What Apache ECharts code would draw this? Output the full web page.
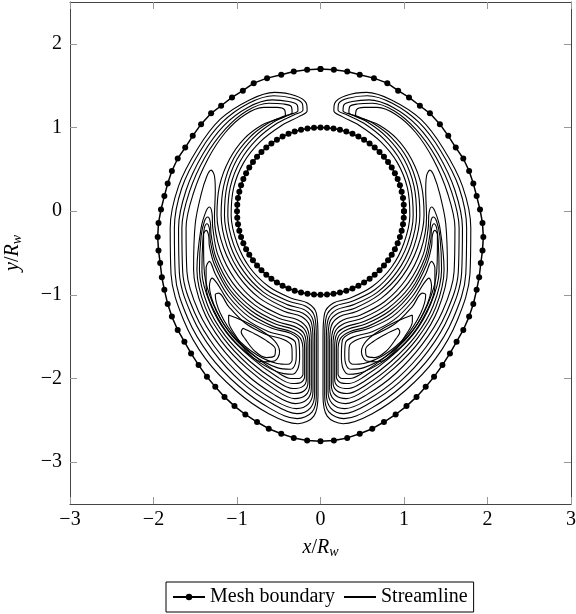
<!DOCTYPE html>
<html>
<head>
<meta charset="utf-8">
<script src="https://cdn.jsdelivr.net/npm/echarts@6/dist/echarts.min.js"></script>
<style>
  html, body { margin: 0; padding: 0; background: #fff; }
  #chart { width: 576px; height: 614px; }
</style>
</head>
<body>
<div id="chart"></div>
<script>
// tick labels
const xTicks = [-3, -2, -1, 0, 1, 2, 3]
const yTicks = [-3, -2, -1, 0, 1, 2]

// outer mesh boundary, left half, top -> bottom (right half is its mirror)
const outerLeft = [
  [0, 1.70], [-0.16, 1.69], [-0.32, 1.67], [-0.47, 1.63], [-0.64, 1.59], [-0.80, 1.53],
  [-0.93, 1.44], [-1.06, 1.36], [-1.19, 1.26], [-1.31, 1.17], [-1.43, 1.04], [-1.53, 0.90],
  [-1.62, 0.76], [-1.71, 0.63], [-1.78, 0.48], [-1.83, 0.33], [-1.87, 0.18], [-1.91, 0.02],
  [-1.94, -0.14], [-1.95, -0.31], [-1.94, -0.47], [-1.92, -0.62], [-1.90, -0.79], [-1.87, -0.94],
  [-1.83, -1.11], [-1.78, -1.26], [-1.71, -1.42], [-1.63, -1.56], [-1.55, -1.70], [-1.46, -1.84],
  [-1.36, -1.98], [-1.26, -2.10], [-1.15, -2.22], [-1.03, -2.33], [-0.90, -2.43], [-0.76, -2.52],
  [-0.62, -2.60], [-0.47, -2.66], [-0.32, -2.71], [-0.16, -2.74], [0, -2.75]
]

// inner mesh boundary (cylinder r = 1), first quadrant
const innerQuarter = [
  [1.000, 0.000], [0.997, 0.078], [0.988, 0.156], [0.972, 0.233], [0.951, 0.309], [0.924, 0.383],
  [0.891, 0.454], [0.853, 0.522], [0.809, 0.588], [0.760, 0.649], [0.707, 0.707], [0.649, 0.760],
  [0.588, 0.809], [0.522, 0.853], [0.454, 0.891], [0.383, 0.924], [0.309, 0.951], [0.233, 0.972],
  [0.156, 0.988], [0.078, 0.997], [0.000, 1.000]
]

// streamlines of the left cell (right cell is the mirror image)
const o1 = [[-0.03,-1.9],[-0.03,-1.5],[-0.05,-1.22],[-0.15,-1.1],[-0.35,-1.04],[-0.62,-0.9],[-0.85,-0.67],[-1.0,-0.38],[-1.07,-0.05],[-1.04,0.28],[-0.92,0.58],[-0.72,0.83],[-0.47,1.02],[-0.26,1.13],[-0.16,1.2],[-0.17,1.29],[-0.3,1.38],[-0.55,1.42],[-0.85,1.33],[-1.2,1.1],[-1.47,0.75],[-1.70,0.3],[-1.80,-0.2],[-1.79,-0.75],[-1.64,-1.3],[-1.38,-1.76],[-1.02,-2.14],[-0.62,-2.42],[-0.27,-2.54],[-0.08,-2.45],[-0.03,-2.2],[-0.03,-1.9]]
const o2 = [[-0.05,-1.9],[-0.05,-1.5],[-0.07,-1.26],[-0.17,-1.14],[-0.37,-1.08],[-0.65,-0.94],[-0.88,-0.7],[-1.04,-0.4],[-1.11,-0.05],[-1.08,0.29],[-0.96,0.6],[-0.76,0.86],[-0.52,1.05],[-0.32,1.15],[-0.21,1.21],[-0.22,1.29],[-0.33,1.35],[-0.56,1.38],[-0.86,1.29],[-1.18,1.06],[-1.44,0.72],[-1.66,0.28],[-1.75,-0.2],[-1.74,-0.75],[-1.59,-1.28],[-1.33,-1.72],[-0.98,-2.09],[-0.6,-2.36],[-0.28,-2.48],[-0.1,-2.4],[-0.05,-2.2],[-0.05,-1.9]]
const o3 = [[-0.07,-1.9],[-0.07,-1.52],[-0.09,-1.3],[-0.19,-1.18],[-0.39,-1.12],[-0.68,-0.97],[-0.92,-0.72],[-1.08,-0.41],[-1.15,-0.05],[-1.12,0.3],[-1.0,0.62],[-0.8,0.88],[-0.57,1.06],[-0.38,1.15],[-0.27,1.2],[-0.28,1.27],[-0.38,1.31],[-0.58,1.33],[-0.87,1.24],[-1.16,1.02],[-1.41,0.68],[-1.61,0.25],[-1.70,-0.2],[-1.69,-0.74],[-1.54,-1.25],[-1.29,-1.67],[-0.95,-2.04],[-0.58,-2.3],[-0.28,-2.42],[-0.12,-2.35],[-0.07,-2.18],[-0.07,-1.9]]
const o4 = [[-0.09,-1.9],[-0.09,-1.54],[-0.11,-1.33],[-0.21,-1.22],[-0.41,-1.16],[-0.7,-1.0],[-0.95,-0.75],[-1.12,-0.42],[-1.19,-0.05],[-1.16,0.3],[-1.04,0.63],[-0.85,0.88],[-0.63,1.05],[-0.45,1.13],[-0.34,1.18],[-0.35,1.25],[-0.44,1.28],[-0.62,1.29],[-0.88,1.2],[-1.14,0.98],[-1.38,0.65],[-1.57,0.23],[-1.66,-0.2],[-1.65,-0.73],[-1.5,-1.23],[-1.26,-1.63],[-0.93,-1.99],[-0.57,-2.25],[-0.29,-2.36],[-0.14,-2.3],[-0.09,-2.15],[-0.09,-1.9]]
const o5 = [[-0.11,-1.9],[-0.11,-1.56],[-0.13,-1.37],[-0.23,-1.26],[-0.43,-1.2],[-0.73,-1.04],[-0.98,-0.78],[-1.16,-0.44],[-1.24,-0.05],[-1.21,0.3],[-1.09,0.62],[-0.91,0.87],[-0.7,1.03],[-0.52,1.1],[-0.42,1.14],[-0.43,1.21],[-0.52,1.24],[-0.68,1.24],[-0.91,1.15],[-1.14,0.94],[-1.35,0.62],[-1.52,0.22],[-1.61,-0.2],[-1.6,-0.72],[-1.46,-1.2],[-1.22,-1.59],[-0.9,-1.94],[-0.56,-2.19],[-0.3,-2.3],[-0.16,-2.25],[-0.11,-2.12],[-0.11,-1.9]]
const t1 = [[-0.13,-1.9],[-0.13,-1.58],[-0.16,-1.4],[-0.27,-1.3],[-0.48,-1.24],[-0.77,-1.08],[-1.02,-0.82],[-1.2,-0.47],[-1.27,-0.08],[-1.26,0.25],[-1.27,0.42],[-1.31,0.49],[-1.36,0.42],[-1.43,0.2],[-1.5,-0.15],[-1.52,-0.7],[-1.41,-1.17],[-1.19,-1.55],[-0.88,-1.88],[-0.55,-2.13],[-0.31,-2.24],[-0.18,-2.2],[-0.13,-2.08],[-0.13,-1.9]]
const t2 = [[-0.15,-1.9],[-0.15,-1.6],[-0.18,-1.43],[-0.29,-1.34],[-0.5,-1.28],[-0.79,-1.12],[-1.05,-0.86],[-1.23,-0.52],[-1.29,-0.2],[-1.3,-0.02],[-1.33,0.05],[-1.37,0.0],[-1.43,-0.2],[-1.48,-0.7],[-1.38,-1.15],[-1.16,-1.52],[-0.86,-1.84],[-0.54,-2.08],[-0.32,-2.18],[-0.2,-2.15],[-0.15,-2.05],[-0.15,-1.9]]
const t3 = [[-0.17,-1.9],[-0.17,-1.62],[-0.2,-1.46],[-0.31,-1.38],[-0.52,-1.32],[-0.81,-1.16],[-1.07,-0.9],[-1.25,-0.56],[-1.31,-0.28],[-1.32,-0.13],[-1.35,-0.07],[-1.39,-0.12],[-1.43,-0.3],[-1.45,-0.7],[-1.35,-1.13],[-1.14,-1.49],[-0.84,-1.8],[-0.53,-2.03],[-0.33,-2.12],[-0.22,-2.1],[-0.17,-2.02],[-0.17,-1.9]]
const t4 = [[-0.19,-1.9],[-0.19,-1.64],[-0.22,-1.49],[-0.33,-1.41],[-0.54,-1.35],[-0.83,-1.19],[-1.09,-0.93],[-1.26,-0.6],[-1.32,-0.35],[-1.33,-0.21],[-1.36,-0.15],[-1.39,-0.2],[-1.41,-0.36],[-1.42,-0.72],[-1.32,-1.11],[-1.12,-1.46],[-0.82,-1.76],[-0.52,-1.98],[-0.34,-2.06],[-0.24,-2.05],[-0.19,-1.98],[-0.19,-1.9]]
const t5 = [[-0.21,-1.9],[-0.21,-1.66],[-0.24,-1.52],[-0.35,-1.44],[-0.56,-1.38],[-0.85,-1.22],[-1.1,-0.96],[-1.27,-0.64],[-1.33,-0.42],[-1.34,-0.29],[-1.37,-0.23],[-1.4,-0.28],[-1.4,-0.42],[-1.39,-0.74],[-1.29,-1.1],[-1.1,-1.43],[-0.8,-1.72],[-0.51,-1.93],[-0.35,-2.0],[-0.26,-2.0],[-0.21,-1.95],[-0.21,-1.9]]
const v1 = [[-0.25,-1.75],[-0.26,-1.55],[-0.36,-1.46],[-0.58,-1.4],[-0.86,-1.26],[-1.1,-1.02],[-1.26,-0.75],[-1.33,-0.6],[-1.37,-0.68],[-1.37,-0.9],[-1.27,-1.2],[-1.08,-1.5],[-0.8,-1.76],[-0.52,-1.92],[-0.34,-1.95],[-0.27,-1.88],[-0.25,-1.75]]
const v2 = [[-0.29,-1.72],[-0.3,-1.57],[-0.4,-1.5],[-0.62,-1.44],[-0.88,-1.3],[-1.1,-1.08],[-1.24,-0.86],[-1.3,-0.8],[-1.33,-0.9],[-1.24,-1.2],[-1.05,-1.5],[-0.78,-1.74],[-0.52,-1.87],[-0.36,-1.89],[-0.3,-1.82],[-0.29,-1.72]]
const v3 = [[-0.34,-1.7],[-0.35,-1.6],[-0.45,-1.53],[-0.66,-1.47],[-0.9,-1.34],[-1.1,-1.14],[-1.22,-0.98],[-1.26,-1.0],[-1.2,-1.22],[-1.02,-1.5],[-0.76,-1.72],[-0.52,-1.82],[-0.39,-1.83],[-0.34,-1.78],[-0.34,-1.7]]
const s1 = [[-1.1,-1.24],[-0.95,-1.3],[-0.72,-1.42],[-0.55,-1.55],[-0.49,-1.68],[-0.55,-1.79],[-0.7,-1.8],[-0.88,-1.68],[-1.02,-1.48],[-1.1,-1.32],[-1.1,-1.24]]
const s2 = [[-0.93,-1.4],[-0.78,-1.47],[-0.63,-1.56],[-0.54,-1.65],[-0.55,-1.73],[-0.65,-1.75],[-0.79,-1.67],[-0.9,-1.53],[-0.95,-1.44],[-0.93,-1.4]]

const leftCell = [o1, o2, o3, o4, o5, t1, t2, t3, t4, t5, v1, v2, v3, s1, s2]

const flipX = pts => pts.map(([x, y]) => [-x, y])
const flipY = pts => pts.map(([x, y]) => [x, -y])

const outerBoundary = outerLeft.concat(flipX(outerLeft).reverse().slice(1))
const innerUpper = innerQuarter.concat(flipX(innerQuarter.slice(0, -1)).reverse())
const innerBoundary = innerUpper.concat(flipY(innerUpper.slice().reverse().slice(1)))

const minus = v => (v < 0 ? '\u2212' + Math.abs(v) : String(v))
const font = 'Liberation Serif'
const frame = '#444'

const streamSeries = leftCell.concat(leftCell.map(flipX)).map(d => ({
  name: 'Streamline',
  type: 'line',
  data: d,
  smooth: 0.35,
  symbol: 'none',
  lineStyle: { color: '#000', width: 1.1 },
  itemStyle: { color: '#000' },
  z: 2
}))

const meshSeries = [outerBoundary, innerBoundary].map(d => ({
  name: 'Mesh boundary',
  type: 'line',
  data: d,
  symbol: 'circle',
  symbolSize: 6,
  lineStyle: { color: '#000', width: 1.5 },
  itemStyle: { color: '#000' },
  z: 3
}))

const nameStyle = {
  fontFamily: font,
  fontSize: 20,
  color: '#000',
  rich: {
    i: { fontFamily: font, fontSize: 20, fontStyle: 'italic', color: '#000' },
    n: { fontFamily: font, fontSize: 20, color: '#000' },
    s: { fontFamily: font, fontSize: 14, fontStyle: 'italic', color: '#000', padding: [8, 0, 0, 0] }
  }
}

const options = {
  animation: false,
  backgroundColor: '#fff',
  grid: { left: 70, right: 5, top: 2, bottom: 110, containLabel: false, outerBoundsMode: 'none' },
  legend: {
    bottom: 2,
    left: 166,
    data: [
      { name: 'Mesh boundary' },
      { name: 'Streamline', itemStyle: { opacity: 0 } }
    ],
    itemWidth: 32,
    itemHeight: 8,
    itemGap: 8,
    padding: [5, 6, 5, 6],
    borderColor: '#000',
    borderWidth: 1,
    borderRadius: 0,
    textStyle: { fontFamily: font, fontSize: 20, color: '#000' }
  },
  xAxis: [
    {
      type: 'value', min: -3, max: 3, interval: 1,
      name: '{i|x}{n|/}{i|R}{s|w}', nameLocation: 'middle', nameGap: 33, nameTextStyle: nameStyle,
      axisLine: { onZero: false, lineStyle: { color: frame, width: 1 } },
      axisTick: { inside: true, length: 7, lineStyle: { color: '#999' } },
      axisLabel: { margin: 6, fontFamily: font, fontSize: 20, color: '#000', formatter: minus, customValues: xTicks },
      splitLine: { show: false }
    },
    {
      type: 'value', min: -3, max: 3, interval: 1, position: 'top',
      axisLine: { onZero: false, lineStyle: { color: frame, width: 1 } },
      axisTick: { inside: true, length: 7, lineStyle: { color: '#999' } },
      axisLabel: { show: false },
      splitLine: { show: false }
    }
  ],
  yAxis: [
    {
      type: 'value', min: -3.5, max: 2.5,
      name: '{i|y}{n|/}{i|R}{s|w}', nameLocation: 'middle', nameGap: 46, nameRotate: 90, nameTextStyle: nameStyle,
      axisLine: { show: true, onZero: false, lineStyle: { color: frame, width: 1 } },
      axisTick: { show: true, inside: true, length: 7, lineStyle: { color: '#999' }, customValues: yTicks },
      axisLabel: { margin: 8, fontFamily: font, fontSize: 20, color: '#000', formatter: minus, customValues: yTicks },
      splitLine: { show: false }
    },
    {
      type: 'value', min: -3.5, max: 2.5, position: 'right',
      axisLine: { show: true, onZero: false, lineStyle: { color: frame, width: 1 } },
      axisTick: { show: true, inside: true, length: 7, lineStyle: { color: '#999' }, customValues: yTicks },
      axisLabel: { show: false },
      splitLine: { show: false }
    }
  ],
  series: streamSeries.concat(meshSeries)
}

const myChart = echarts.init(document.getElementById('chart'))
myChart.setOption(options)
</script>
</body>
</html>
